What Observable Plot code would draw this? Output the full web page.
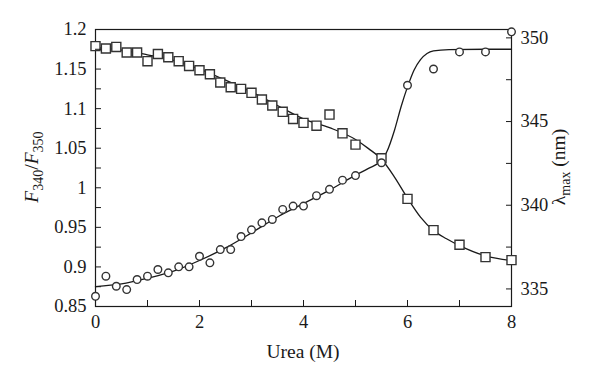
<!DOCTYPE html>
<html><head><meta charset="utf-8">
<script src="https://cdn.jsdelivr.net/npm/d3@7"></script>
<script src="https://cdn.jsdelivr.net/npm/@observablehq/plot@0.6"></script>
<style>
body{margin:0;background:#fff}
#chart svg{font-family:"Liberation Serif","Times New Roman",serif !important;background:#fff}
#chart svg g[aria-label$="tick label"], #chart svg g[aria-label$="tick label"] text{font-size:18.5px !important}
</style>
</head><body><div id="chart"></div>
<script>
// Measured points (same urea concentrations for both series)
const urea = [0,0.2,0.4,0.6,0.8,1.0,1.2,1.4,1.6,1.8,2.0,2.2,2.4,2.6,2.8,3.0,3.2,3.4,3.6,3.8,4.0,4.25,4.5,4.75,5.0,5.5,6.0,6.5,7.0,7.5,8.0];
// F340/F350 (squares, left axis)
const ratio = [1.179,1.176,1.178,1.171,1.171,1.160,1.169,1.165,1.160,1.154,1.1485,1.1435,1.133,1.127,1.125,1.120,1.1115,1.104,1.096,1.087,1.082,1.0785,1.0925,1.0688,1.0545,1.0372,0.986,0.9465,0.928,0.9124,0.9086];
// lambda max in nm (circles, right axis)
const lambdaMax = [334.56,335.76,335.16,334.96,335.56,335.76,336.16,335.96,336.32,336.32,336.95,336.56,337.35,337.35,338.13,338.53,338.95,339.15,339.75,339.95,339.95,340.57,340.95,341.5,341.77,342.54,347.17,348.14,349.16,349.16,350.36];

// Fitted curves
const ratioFitX = [0,0.5,1,1.5,2,2.5,3,3.5,4,4.5,5,5.25,5.5,5.75,6,6.25,6.5,6.75,7,7.5,8];
const ratioFitY = [1.177,1.174,1.168,1.161,1.150,1.136,1.121,1.104,1.087,1.076,1.061,1.0495,1.036,1.0136,0.987,0.963,0.946,0.9356,0.927,0.914,0.908];
const lambdaFitX = [0,0.5,1,1.5,2,2.5,3,3.5,4,4.5,5,5.25,5.5,5.6,5.75,5.875,6,6.125,6.25,6.375,6.5,6.8,7.5,8];
const lambdaFitY = [335.14,335.3,335.64,336.06,336.7,337.45,338.35,339.3,340.1,340.9,341.8,342.2,342.7,343.18,344.48,345.87,347.07,348.07,348.7,349.07,349.22,349.3,349.32,349.32];

// Axes
const xMajor = [0,2,4,6,8];
const xMinor = [1,3,5,7];
const leftMajor = [0.85,0.9,0.95,1,1.05,1.1,1.15,1.2];
const leftLabels = ["0.85","0.9","0.95","1","1.05","1.1","1.15","1.2"];
const leftMinor = [0.875,0.925,0.975,1.025,1.075,1.125,1.175];
const rightMajor = [335,340,345,350];
const rightMinor = [337.5,342.5,347.5];
const leftDomain = [0.85,1.2];
const rightDomain = [333.95,350.5];

// map right-axis values onto the shared y scale
const toLeft = v => leftDomain[0] + (v - rightDomain[0]) / (rightDomain[1] - rightDomain[0]) * (leftDomain[1] - leftDomain[0]);

const squares = urea.map((u,i) => ({u, v: ratio[i]}));
const circles = urea.map((u,i) => ({u, v: lambdaMax[i]}));
const sqFit = ratioFitX.map((u,i) => ({u, v: ratioFitY[i]}));
const ciFit = lambdaFitX.map((u,i) => ({u, v: lambdaFitY[i]}));

const ink = "#1a1a1a";

const plot = Plot.plot({
  width: 600, height: 382,
  marginLeft: 95, marginRight: 89, marginTop: 29, marginBottom: 76,
  x: {domain: [0,8]},
  y: {domain: leftDomain},
  style: {color: ink},
  marks: [
    Plot.frame({stroke: ink, strokeWidth: 1.2}),
    Plot.line(sqFit, {x: "u", y: "v", curve: "monotone-x", stroke: ink, strokeWidth: 1.3}),
    Plot.line(ciFit, {x: "u", y: d => toLeft(d.v), curve: "monotone-x", stroke: ink, strokeWidth: 1.3}),
    Plot.dot(squares, {x: "u", y: "v", symbol: "square", r: 5.1, stroke: "#333", strokeWidth: 1.4, fill: "white"}),
    Plot.dot(circles, {x: "u", y: d => toLeft(d.v), r: 3.8, stroke: "#333", strokeWidth: 1.4, fill: "white"}),
    // bottom axis
    Plot.axisX({ticks: xMajor, tickSize: 0, tickPadding: 8, label: null}),
    Plot.axisX({ticks: xMajor.concat(xMinor), tickSize: -6, tickFormat: () => "", label: null}),
    // left axis
    Plot.axisY({anchor: "left", ticks: leftMajor, tickSize: 0, tickPadding: 9, label: null,
      tickFormat: (d, i) => leftLabels[i]}),
    Plot.axisY({anchor: "left", ticks: leftMajor.concat(leftMinor), tickSize: -6, tickFormat: () => "", label: null}),
    // right axis
    Plot.axisY({anchor: "right", ticks: rightMajor.map(toLeft), tickSize: 0, tickPadding: 9, label: null,
      tickFormat: (d, i) => String(rightMajor[i])}),
    Plot.axisY({anchor: "right", ticks: rightMajor.concat(rightMinor).map(toLeft), tickSize: -6, tickFormat: () => "", label: null})
  ]
});
document.getElementById("chart").appendChild(plot);

// Axis titles with italic / subscripts
const svg = d3.select(plot);
const g = svg.append("g").attr("fill", ink).style("font-size", "19.5px");
g.append("text").attr("x", 303).attr("y", 358).attr("text-anchor", "middle").text("Urea (M)");

const lt = g.append("text").attr("transform", "translate(38,167) rotate(-90)").attr("text-anchor", "middle");
lt.append("tspan").attr("font-style", "italic").text("F");
lt.append("tspan").attr("dy", 5).style("font-size", "14px").text("340");
lt.append("tspan").attr("dy", -5).text("/");
lt.append("tspan").attr("font-style", "italic").text("F");
lt.append("tspan").attr("dy", 5).style("font-size", "14px").text("350");

const rt = g.append("text").attr("transform", "translate(565,167) rotate(-90)").attr("text-anchor", "middle");
rt.append("tspan").text("λ");
rt.append("tspan").attr("dy", 5).style("font-size", "14px").text("max");
rt.append("tspan").attr("dy", -5).text(" (nm)");
</script>
</body></html>
